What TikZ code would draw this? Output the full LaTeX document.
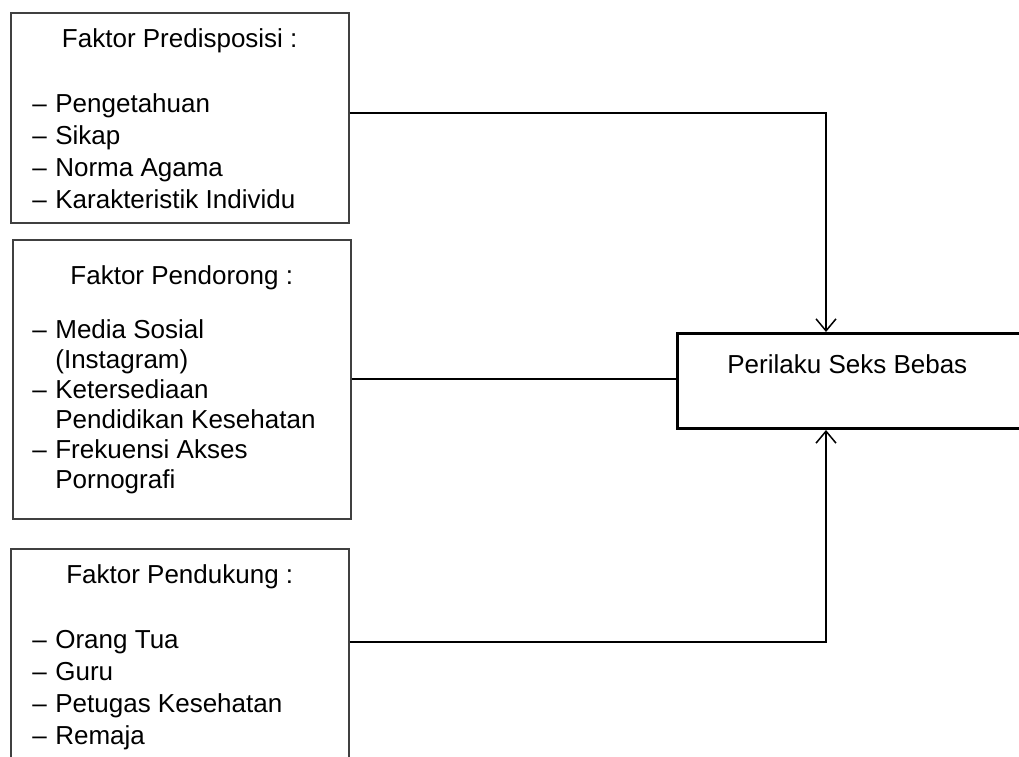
\documentclass[tikz,border=0pt]{standalone}
\usepackage{fontspec}
\setmainfont{Liberation Sans}
\usetikzlibrary{arrows.meta}

\tikzset{every picture/.style={line width=0.75pt}}
\tikzset{
  faktor/.style={draw={rgb,255:red,64;green,64;blue,64}, line width=1.5pt, anchor=north west, inner sep=0pt},
  hasil/.style={draw=black, line width=3pt, anchor=north west, inner sep=0pt},
  judul/.style={anchor=base, inner sep=0pt, font=\fontsize{26}{32}\selectfont},
  daftar/.style={anchor=north west, inner sep=0pt, align=left, font=\fontsize{26}{32}\selectfont},
  garis/.style={line width=2pt},
  panah/.style={line width=2pt, -{Straight Barb[length=12pt,width=20pt,line width=1.5pt]}},
}
\newcommand{\itm}{\makebox[23pt][l]{–}}
\newcommand{\lanjut}{\hspace*{23pt}}

\begin{document}
\begin{tikzpicture}[x=1pt,y=-1pt]
\useasboundingbox (0,0) rectangle (1019,756);
\clip (0,0) rectangle (1019,756);

%Kotak faktor
\node[faktor, minimum width=338pt, minimum height=210pt] (predis) at (10,12) {};
\node[faktor, minimum width=338pt, minimum height=279pt] (dorong) at (12,239) {};
\node[faktor, minimum width=338pt, minimum height=250pt] (dukung) at (10,548) {};
%Kotak hasil
\node[hasil, minimum width=380pt, minimum height=95pt] (seks) at (676,332) {};

% Judul
\node[judul] (predisjdl) at ([yshift=-35pt]predis.north) {Faktor Predisposisi :};
\node[judul] (dorongjdl) at ([yshift=-45pt]dorong.north) {Faktor Pendorong :};
\node[judul] (dukungjdl) at ([yshift=-35pt]dukung.north) {Faktor Pendukung :};
\node[judul, anchor=base west] (seksjdl) at ([xshift=51pt,yshift=-41pt]seks.north west) {Perilaku Seks Bebas};

% Isi
\node[daftar] (predisisi) at ([xshift=22pt,yshift=-77.6pt]predis.north west)
  {\strut\itm Pengetahuan\\ \itm Sikap\\ \itm Norma Agama\\ \itm Karakteristik Individu};
\node[daftar, font=\fontsize{26}{30}\selectfont] (dorongisi) at ([xshift=20pt,yshift=-78pt]dorong.north west)
  {\strut\itm Media Sosial\\ \lanjut(Instagram)\\ \itm Ketersediaan\\ \lanjut Pendidikan Kesehatan\\ \itm Frekuensi Akses\\ \lanjut Pornografi};
\node[daftar] (dukungisi) at ([xshift=22pt,yshift=-77.6pt]dukung.north west)
  {\strut\itm Orang Tua\\ \itm Guru\\ \itm Petugas Kesehatan\\ \itm Remaja};

% Garis penghubung
\draw[panah] ([yshift=5pt]predis.east) -| ([xshift=150pt]seks.north west);
\draw[garis] (dorong.east) -- (dorong.east -| seks.west);
\draw[panah] ([yshift=-94pt]dukung.north east) -| ([xshift=150pt]seks.south west);

\end{tikzpicture}
\end{document}
